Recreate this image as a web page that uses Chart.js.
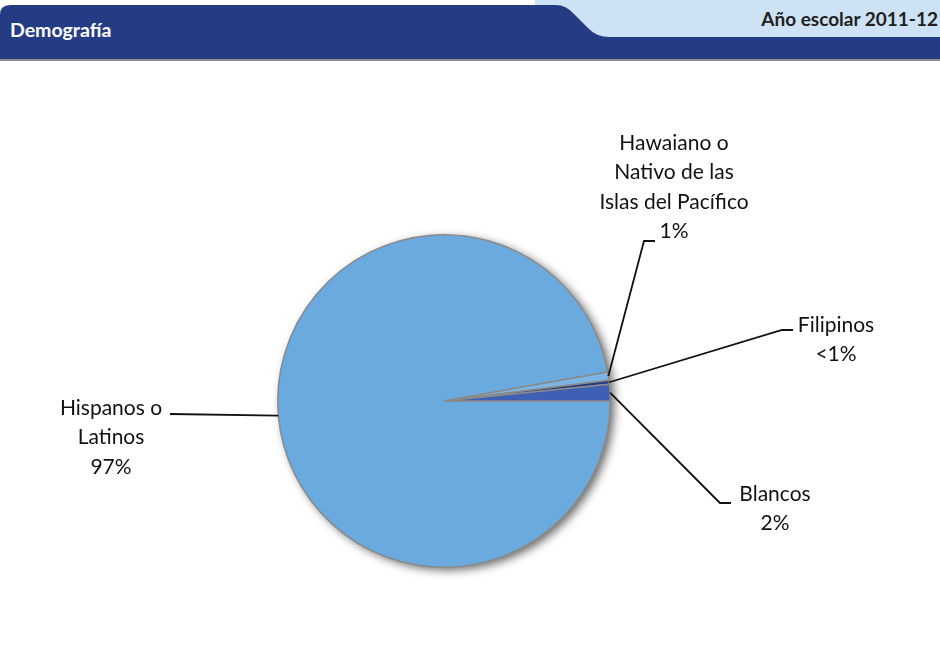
<!DOCTYPE html>
<html>
<head>
<meta charset="utf-8">
<script src="https://cdn.jsdelivr.net/npm/chart.js@4"></script>
<style>
  html, body { margin: 0; padding: 0; background: #fff; }
  body { width: 940px; height: 666px; position: relative; overflow: hidden; font-family: Lato, "Open Sans", sans-serif; }
  #head { position: absolute; left: 0; top: 0; }
  #title { position: absolute; left: 10px; top: 18px; color: #fff; font: bold 19.5px Lato, sans-serif; }
  #year { position: absolute; right: 2px; top: 7px; color: #1f1f1f; font: bold 19px Lato, sans-serif; }
  #wrap { position: absolute; left: 0; top: 0; width: 940px; height: 666px; }
</style>
</head>
<body>
<svg id="head" width="940" height="64">
  <path d="M535,0 L940,0 L940,40 L535,40 Z" fill="#cde2f5"/>
  <path d="M0,64 L0,15 Q0,5 10,5 L556,5 Q566,5 574,14 L588,28 Q596,37 610,37 L940,37 L940,60 L0,60 Z" fill="#253c85"/>
  <rect x="0" y="59" width="940" height="2" fill="#8f8f8f"/>
</svg>
<div id="title">Demografía</div>
<div id="year">Año escolar 2011-12</div>
<div id="wrap"><canvas id="demo"></canvas></div>
<script>
// slices, clockwise from 3 o'clock
var GROUPS = [
  ["Hispanos o", "Latinos"],
  ["Hawaiano o", "Nativo de las", "Islas del Pacífico"],
  ["Filipinos"],
  ["Blancos"]
];
var SHARES = [97.2, 0.8, 0.4, 1.6];
var SHARE_TEXT = ["97%", "1%", "<1%", "2%"];

var COLORS = ["#6aaade", "#7cb4e3", "#233c80", "#3e5fb4"];

// label anchor (elbow of leader line) and text centre, in canvas px
var LABEL_POS = [
  { elbowX: 170, elbowY: 414, tx: 111, ty: 408, side: "left" },
  { elbowX: 644, elbowY: 241, tx: 674, ty: 143, side: "right" },
  { elbowX: 782, elbowY: 330, tx: 836, ty: 325, side: "right" },
  { elbowX: 720, elbowY: 503, tx: 775, ty: 494, side: "right" }
];

var shadowPlugin = {
  id: "pieShadow",
  beforeDatasetsDraw: function(chart) {
    var arc = chart.getDatasetMeta(0).data[0];
    var c = chart.ctx;
    c.save();
    c.shadowColor = "rgba(0,0,0,0.6)";
    c.shadowBlur = 10;
    c.shadowOffsetX = 4;
    c.shadowOffsetY = 3;
    c.beginPath();
    c.arc(arc.x, arc.y, arc.outerRadius, 0, Math.PI * 2);
    c.fillStyle = "#777";
    c.fill();
    c.restore();
  }
};

var labelPlugin = {
  id: "leaderLabels",
  afterDatasetsDraw: function(chart) {
    var c = chart.ctx;
    var arcs = chart.getDatasetMeta(0).data;
    c.save();
    arcs.forEach(function(arc, i) {
      var mid = (arc.startAngle + arc.endAngle) / 2;
      var sx = arc.x + Math.cos(mid) * arc.outerRadius;
      var sy = arc.y + Math.sin(mid) * arc.outerRadius;
      var p = LABEL_POS[i];
      c.strokeStyle = "#111";
      c.lineWidth = 1.8;
      c.beginPath();
      c.moveTo(sx, sy);
      c.lineTo(p.elbowX, p.elbowY);
      if (p.side == "right") c.lineTo(p.elbowX + 11, p.elbowY);
      c.stroke();

      var lines = GROUPS[i].concat([SHARE_TEXT[i]]);
      c.fillStyle = "#111";
      c.font = "21px Lato, 'Open Sans', sans-serif";
      c.textAlign = "center";
      c.textBaseline = "middle";
      lines.forEach(function(t, k) {
        c.fillText(t, p.tx, p.ty + k * 29.5);
      });
    });
    c.restore();
  }
};

var ctx = document.getElementById("demo").getContext("2d");
var pie = new Chart(ctx, {
  type: "pie",
  data: {
    labels: GROUPS.map(function(g) { return g.join(" "); }),
    datasets: [{
      data: SHARES,
      backgroundColor: COLORS,
      borderColor: "#8a8a8a",
      borderWidth: 1.5
    }]
  },
  options: {
    responsive: true,
    maintainAspectRatio: false,
    animation: false,
    rotation: 90,
    layout: { padding: { top: 234, bottom: 98, left: 277, right: 329 } },
    plugins: {
      legend: { display: false },
      tooltip: { enabled: false }
    }
  },
  plugins: [shadowPlugin, labelPlugin]
});
</script>
</body>
</html>
